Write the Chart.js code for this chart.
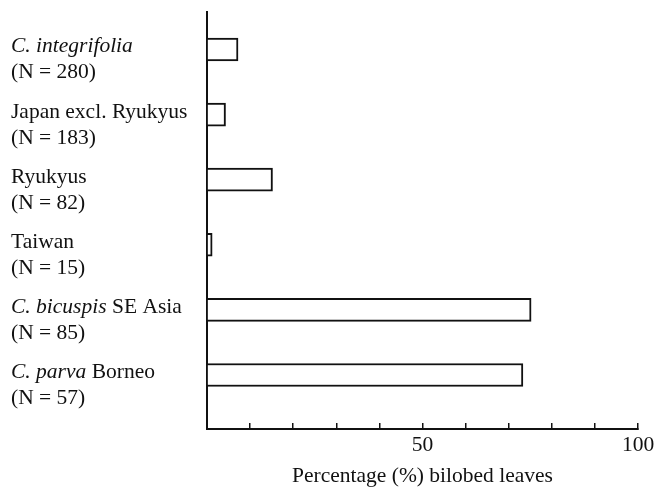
<!DOCTYPE html>
<html lang="en">
<head>
    <meta charset="UTF-8">
    <title>Bilobed leaves</title>
    <script src="https://cdn.jsdelivr.net/npm/chart.js"></script>
    <style>
        body {
            margin: 0;
            padding: 0;
            background: #fff;
        }
        .chart-box {
            width: 659px;
            height: 487px;
        }
    </style>
</head>
<body>
    <div class="chart-box">
        <canvas id="leafChart" width="659" height="487"></canvas>
    </div>

    <script>
        // Dados
        const taxonItalic = ['C. integrifolia', '', '', '', 'C. bicuspis', 'C. parva'];
        const taxonPlain = ['', 'Japan excl. Ryukyus', 'Ryukyus', 'Taiwan', ' SE Asia', ' Borneo'];
        const sampleSizes = [280, 183, 82, 15, 85, 57];
        const bilobedPct = [7.2, 4.3, 15.2, 1.2, 75.2, 73.3];
        const labeledTicks = [50, 100];
        const axisTitle = 'Percentage (%) bilobed leaves';

        const serif = '"Liberation Serif", "Times New Roman", serif';
        const ink = '#111';
        const fontPx = 21.5;

        // rótulos das categorias (itálico + normal) desenhados à esquerda
        const categoryLabels = {
            id: 'categoryLabels',
            afterDraw(chart) {
                const ctx = chart.ctx;
                const yScale = chart.scales.y;
                ctx.save();
                ctx.fillStyle = ink;
                ctx.textBaseline = 'alphabetic';
                ctx.textAlign = 'left';
                sampleSizes.forEach((n, i) => {
                    const y = yScale.getPixelForValue(i);
                    let x = 11;
                    if (taxonItalic[i]) {
                        ctx.font = 'italic ' + fontPx + 'px ' + serif;
                        ctx.fillText(taxonItalic[i], x, y + 3);
                        x += ctx.measureText(taxonItalic[i]).width;
                    }
                    ctx.font = fontPx + 'px ' + serif;
                    if (taxonPlain[i]) ctx.fillText(taxonPlain[i], x, y + 3);
                    ctx.fillText('(N = ' + n + ')', 11, y + 29);
                });
                ctx.restore();
            }
        };

        const ctx = document.getElementById('leafChart').getContext('2d');
        const leafChart = new Chart(ctx, {
            type: 'bar',
            data: {
                datasets: [{
                    data: bilobedPct.map((v, i) => ({ x: v, y: i })),
                    backgroundColor: '#fff',
                    borderColor: ink,
                    borderWidth: 2,
                    borderSkipped: 'start',
                    barThickness: 23
                }]
            },
            options: {
                indexAxis: 'y',
                responsive: false,
                animation: false,
                layout: { padding: { top: 12, right: 21, bottom: 0, left: 0 } },
                plugins: {
                    legend: { display: false },
                    tooltip: { enabled: false }
                },
                scales: {
                    x: {
                        type: 'linear',
                        min: 0,
                        max: 100,
                        afterFit: s => { s.height = 58; s.paddingRight = 0; },
                        grid: {
                            drawOnChartArea: false,
                            tickLength: -6,
                            color: ink,
                            lineWidth: 1.5
                        },
                        border: { color: ink, width: 2 },
                        ticks: {
                            stepSize: 10,
                            padding: 9,
                            maxRotation: 0,
                            autoSkip: false,
                            color: ink,
                            font: { family: serif, size: fontPx },
                            callback: v => labeledTicks.includes(v) ? String(v) : ''
                        },
                        title: {
                            display: true,
                            text: axisTitle,
                            color: ink,
                            font: { family: serif, size: fontPx, lineHeight: 1 },
                            padding: { top: 0, bottom: 0 }
                        }
                    },
                    y: {
                        type: 'linear',
                        reverse: true,
                        offset: false,
                        bounds: 'data',
                        min: -0.576,
                        max: 5.83,
                        afterFit: s => { s.width = 207; },
                        grid: { drawOnChartArea: false, drawTicks: false, offset: false },
                        border: { color: ink, width: 2 },
                        ticks: { display: false }
                    }
                }
            },
            plugins: [categoryLabels]
        });
    </script>
</body>
</html>
